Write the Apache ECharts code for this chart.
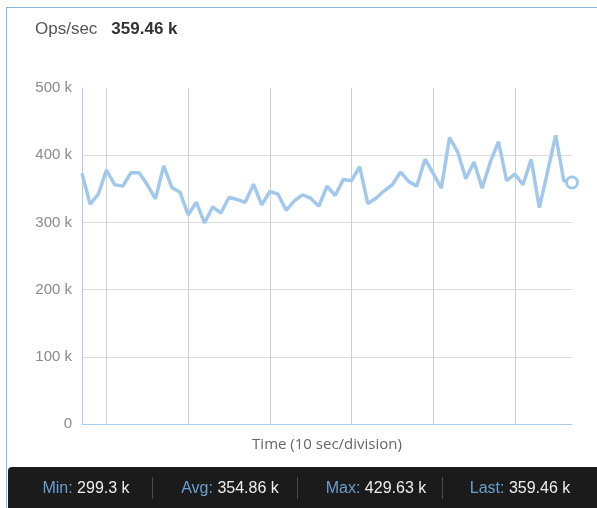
<!DOCTYPE html>
<html>
<head>
<meta charset="utf-8">
<script src="https://cdn.jsdelivr.net/npm/echarts@6/dist/echarts.min.js"></script>
<style>
  html, body { margin: 0; padding: 0; background: #fff; }
  #wrap { position: relative; width: 597px; height: 508px; overflow: hidden; }
  #panel {
    position: absolute; left: 6px; top: 7px; right: -10px; bottom: -10px;
    border-top: 1px solid #8db6df; border-left: 1px solid #8db6df;
  }
  #chart { position: absolute; left: 0; top: 0; width: 597px; height: 508px; }
  #header {
    position: absolute; left: 35px; top: 19px; line-height: 20px;
    font-family: 'Liberation Sans', Arial, sans-serif; font-size: 17px; color: #555;
  }
  #header b { color: #333; margin-left: 14px; }
  #footer {
    position: absolute; left: 8px; top: 467px; width: 600px; height: 41px;
    background: #1b1b1b; border-top-left-radius: 4px;
    font-family: 'Liberation Sans', Arial, sans-serif; font-size: 16px;
  }
  .cell { position: absolute; top: 0; line-height: 41px; color: #eee; white-space: nowrap; transform: translateX(-50%); }
  .cell span { color: #6b9fcf; }
  .sep { position: absolute; top: 10px; width: 1px; height: 22px; background: #4a4a4a; }
</style>
</head>
<body>
<div id="wrap">
  <div id="panel"></div>
  <div id="chart"></div>
  <div id="header"></div>
  <div id="footer"></div>
</div>
<script>
// 每秒操作数 (单位 k)，每秒一个点
const opsValues = [
  373, 327, 342, 378, 356, 354, 374, 374, 356, 335,
  384, 352, 345, 311, 330, 299.3, 323, 314, 337, 334,
  330, 357, 326, 346, 342, 318, 332, 341, 336, 324,
  354, 340, 364, 362, 383, 328, 336, 347, 356, 375,
  361, 354, 394, 373, 351, 426, 405, 365, 390, 351,
  390, 420, 362, 372, 356, 394, 322, 375, 429.63, 362, 359.46
];
const timeLabels = opsValues.map((_, i) => String(i));
const yTicks = [0, 100, 200, 300, 400, 500];
const statLabels = ['Min', 'Avg', 'Max', 'Last'];
const statValues = ['299.3 k', '354.86 k', '429.63 k', '359.46 k'];

// 顶部标题
document.getElementById('header').innerHTML =
  'Ops/sec<b>' + statValues[3] + '</b>';

// 底部统计栏
const footer = document.getElementById('footer');
const cellCenters = [78, 222, 368, 512];
const sepX = [144, 289, 434];
statLabels.forEach((name, i) => {
  const d = document.createElement('div');
  d.className = 'cell';
  d.style.left = cellCenters[i] + 'px';
  d.innerHTML = '<span>' + name + ':</span> ' + statValues[i];
  footer.appendChild(d);
});
sepX.forEach(x => {
  const s = document.createElement('div');
  s.className = 'sep';
  s.style.left = x + 'px';
  footer.appendChild(s);
});

const lastIndex = opsValues.length - 1;
const chart = echarts.init(document.getElementById('chart'));
chart.setOption({
  animation: false,
  grid: { left: 82, right: 25, top: 88, bottom: 84, containLabel: false },
  xAxis: {
    type: 'category',
    data: timeLabels,
    boundaryGap: false,
    name: 'Time (10 sec/division)',
    nameLocation: 'middle',
    nameGap: 13,
    nameTextStyle: { color: '#666', fontSize: 15, fontFamily: 'Open Sans' },
    axisLine: { lineStyle: { color: '#a8ccee', width: 1 } },
    axisTick: { show: false },
    axisLabel: { show: false },
    splitLine: {
      show: true,
      interval: (idx) => idx % 10 === 3,
      lineStyle: { color: '#cfcfcf', width: 1 }
    }
  },
  yAxis: {
    type: 'value',
    min: yTicks[0],
    max: yTicks[yTicks.length - 1],
    interval: 100,
    axisLine: { show: true, lineStyle: { color: '#a8ccee', width: 1 } },
    axisTick: { show: false },
    axisLabel: {
      color: '#8a8a8a', fontSize: 15, margin: 10,
      fontFamily: 'Liberation Sans, Arial, sans-serif',
      formatter: v => v === 0 ? '0' : v + ' k'
    },
    splitLine: { show: true, showMaxLine: false, lineStyle: { color: '#dcdcdc', width: 1 } }
  },
  series: [{
    type: 'line',
    data: opsValues,
    showAllSymbol: true,
    symbol: (val, params) => params.dataIndex === lastIndex ? 'circle' : 'none',
    symbolSize: 11,
    lineStyle: { color: '#a2c9ec', width: 3.5 },
    itemStyle: { color: '#fff', borderColor: '#a2c9ec', borderWidth: 3 }
  }]
});
</script>
</body>
</html>
